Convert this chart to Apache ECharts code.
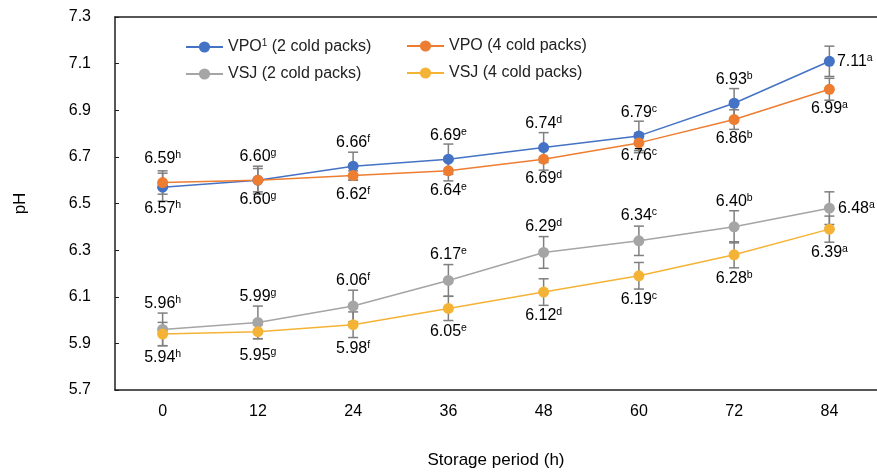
<!DOCTYPE html>
<html>
<head>
<meta charset="utf-8">
<script src="https://cdn.jsdelivr.net/npm/echarts@6/dist/echarts.min.js"></script>
<style>
  html, body { margin: 0; padding: 0; background: #fff; }
  #chart { width: 877px; height: 474px; }
</style>
</head>
<body>
<div id="chart"></div>
<script>
// storage period (h)
const times = ["0", "12", "24", "36", "48", "60", "72", "84"];
const letters = ["h", "g", "f", "e", "d", "c", "b", "a"];

const vpo2 = [6.57, 6.60, 6.66, 6.69, 6.74, 6.79, 6.93, 7.11];
const vpo4 = [6.59, 6.60, 6.62, 6.64, 6.69, 6.76, 6.86, 6.99];
const vsj2 = [5.96, 5.99, 6.06, 6.17, 6.29, 6.34, 6.40, 6.48];
const vsj4 = [5.94, 5.95, 5.98, 6.05, 6.12, 6.19, 6.28, 6.39];

// error bars (sd)
const vpo2Err = [0.06, 0.06, 0.06, 0.065, 0.064, 0.063, 0.063, 0.065];
const vpo4Err = [0.05, 0.05, 0.02, 0.043, 0.047, 0.042, 0.042, 0.047];
const vsj2Err = [0.07, 0.07, 0.068, 0.068, 0.068, 0.063, 0.069, 0.07];
const vsj4Err = [0.05, 0.03, 0.055, 0.052, 0.057, 0.057, 0.056, 0.056];

const yTicks = [5.7, 5.9, 6.1, 6.3, 6.5, 6.7, 6.9, 7.1, 7.3];

const names = ["VPO1 (2 cold packs)", "VPO (4 cold packs)", "VSJ (2 cold packs)", "VSJ (4 cold packs)"];
const colors = ["#4472C4", "#ED7D31", "#A5A5A5", "#F5B335"];

const richLbl = {
  n: { fontSize: 16, color: "#000", fontFamily: "Liberation Sans", lineHeight: 18 },
  s: { fontSize: 10.5, color: "#000", fontFamily: "Liberation Sans", verticalAlign: "top", lineHeight: 18 }
};

function labelText(v, i) {
  return "{n|" + v.toFixed(2) + "}{s|" + letters[i] + "}";
}

// build point data with per-point label placement
function pointData(vals, pos, dist, special) {
  return vals.map(function (v, i) {
    let lab = { position: pos, distance: dist };
    if (special[i]) lab = Object.assign({}, lab, special[i]);
    lab.formatter = labelText(v, i);
    return { value: v, label: lab };
  });
}

function lineSeries(idx, vals, pos, dist, special) {
  return {
    name: names[idx],
    type: "line",
    data: pointData(vals, pos, dist, special),
    symbol: "circle",
    symbolSize: 11,
    color: colors[idx],
    lineStyle: { width: 1.5, color: colors[idx] },
    itemStyle: { color: colors[idx] },
    z: 3,
    label: { show: true, rich: richLbl },
    labelLayout: { hideOverlap: false }
  };
}

function errSeries(vals, errs) {
  return {
    type: "custom",
    z: 2,
    silent: true,
    data: vals.map(function (v, i) { return [i, v, errs[i]]; }),
    renderItem: function (params, api) {
      const x = api.value(0), y = api.value(1), e = api.value(2);
      const hi = api.coord([x, y + e]);
      const lo = api.coord([x, y - e]);
      const st = { stroke: "#7F7F7F", lineWidth: 1.5 };
      const w = 5;
      return {
        type: "group",
        children: [
          { type: "line", shape: { x1: hi[0], y1: hi[1], x2: lo[0], y2: lo[1] }, style: st },
          { type: "line", shape: { x1: hi[0] - w, y1: hi[1], x2: hi[0] + w, y2: hi[1] }, style: st },
          { type: "line", shape: { x1: lo[0] - w, y1: lo[1], x2: lo[0] + w, y2: lo[1] }, style: st }
        ]
      };
    }
  };
}

function legendFmt(name) {
  if (name === names[0]) return "{n|VPO}{s|1}{n| (2 cold packs)}";
  return "{n|" + name + "}";
}

const legendRich = {
  n: { fontSize: 16, color: "#222", fontFamily: "Liberation Sans", lineHeight: 18 },
  s: { fontSize: 10, color: "#222", fontFamily: "Liberation Sans", verticalAlign: "top", lineHeight: 18 }
};

const myChart = echarts.init(document.getElementById("chart"));
const option = {
  animation: false,
  textStyle: { fontFamily: "Liberation Sans" },
  grid: { left: 115, top: 17, width: 765, bottom: 82 },
  legend: [
    {
      data: [names[0], names[2]], orient: "vertical", left: 180, top: 33,
      itemWidth: 37, itemHeight: 14, itemGap: 11,
      formatter: legendFmt, textStyle: { rich: legendRich }
    },
    {
      data: [names[1], names[3]], orient: "vertical", left: 401, top: 33,
      itemWidth: 37, itemHeight: 14, itemGap: 11,
      formatter: legendFmt, textStyle: { rich: legendRich }
    }
  ],
  xAxis: [
    {
      type: "category",
      data: times,
      boundaryGap: true,
      name: "Storage period (h)",
      nameLocation: "middle",
      nameGap: 62,
      nameTextStyle: { fontSize: 17, color: "#000" },
      axisLine: { lineStyle: { color: "#1f1f1f", width: 1.5 } },
      axisTick: { inside: true, length: 5, lineStyle: { color: "#1f1f1f" } },
      axisLabel: { fontSize: 16, color: "#000", margin: 14 }
    },
    {
      // top frame line only
      type: "category",
      data: times,
      position: "top",
      axisLine: { lineStyle: { color: "#1f1f1f", width: 1.5 } },
      axisTick: { show: false },
      axisLabel: { show: false }
    }
  ],
  yAxis: {
    type: "value",
    min: yTicks[0],
    max: yTicks[yTicks.length - 1],
    interval: 0.2,
    name: "pH",
    nameLocation: "middle",
    nameGap: 86,
    nameTextStyle: { fontSize: 17, color: "#000" },
    axisLine: { show: true, lineStyle: { color: "#1f1f1f", width: 1.5 } },
    axisTick: { show: true, inside: true, length: 4, lineStyle: { color: "#1f1f1f" } },
    splitLine: { show: false },
    axisLabel: {
      fontSize: 16, color: "#000", margin: 24,
      formatter: function (v) { return v.toFixed(1); }
    }
  },
  series: [
    errSeries(vpo2, vpo2Err),
    errSeries(vpo4, vpo4Err),
    errSeries(vsj2, vsj2Err),
    errSeries(vsj4, vsj4Err),
    lineSeries(0, vpo2, "top", 9, {
      0: { position: "bottom", distance: 7 },
      7: { position: "right", distance: 2, offset: [0, -8] }
    }),
    lineSeries(1, vpo4, "bottom", 5, {
      0: { position: "top", distance: 9 },
      5: { distance: -2 }
    }),
    lineSeries(2, vsj2, "top", 11, {
      7: { position: "right", distance: 3, offset: [0, -18] }
    }),
    lineSeries(3, vsj4, "bottom", 9, {})
  ]
};

if (option && typeof option === "object") myChart.setOption(option);
window.addEventListener("resize", function () {
  myChart.resize();
});
</script>
</body>
</html>
